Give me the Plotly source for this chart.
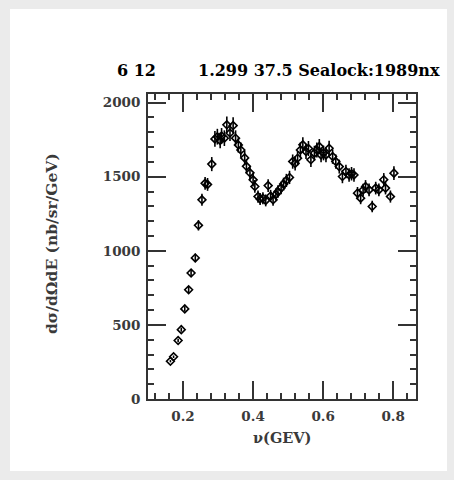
import plotly.graph_objects as go

# Inclusive cross section, Sealock 1989, E = 1.299 GeV, theta = 37.5 deg
nu = [0.164, 0.173, 0.186, 0.195, 0.205, 0.216, 0.223, 0.235, 0.244, 0.254,
      0.263, 0.270, 0.282, 0.291, 0.298, 0.306, 0.310, 0.318, 0.325, 0.334,
      0.343, 0.350, 0.358, 0.365, 0.376, 0.381, 0.391, 0.400, 0.405, 0.414,
      0.420, 0.428, 0.436, 0.443, 0.450, 0.457, 0.465, 0.471, 0.480, 0.487,
      0.495, 0.504, 0.513, 0.520, 0.527, 0.535, 0.542, 0.551, 0.558, 0.565,
      0.575, 0.582, 0.589, 0.594, 0.601, 0.608, 0.617, 0.627, 0.636, 0.646,
      0.655, 0.665, 0.674, 0.681, 0.688, 0.698, 0.707, 0.714, 0.721, 0.731,
      0.740, 0.750, 0.759, 0.773, 0.778, 0.792, 0.802]
xsec = [255, 285, 395, 468, 608, 737, 850, 952, 1172, 1344,
        1455, 1448, 1585, 1755, 1770, 1745, 1775, 1760, 1850, 1795,
        1845, 1760, 1714, 1680, 1627, 1570, 1526, 1479, 1434, 1366,
        1350, 1355, 1340, 1440, 1370, 1344, 1380, 1400, 1425, 1450,
        1475, 1495, 1602, 1590, 1625, 1680, 1715, 1670, 1690, 1614,
        1659, 1680, 1703, 1647, 1660, 1647, 1692, 1636, 1602, 1568,
        1501, 1535, 1512, 1520, 1512, 1389, 1355, 1410, 1434, 1411,
        1299, 1423, 1411, 1480, 1423, 1366, 1524]

header_left = "6 12"
header_right = "1.299 37.5 Sealock:1989nx"
x_title = "\u03bd(GEV)"
y_title = "d\u03c3/d\u03a9dE (nb/sr/GeV)"

W, H = 454, 480
L, R, T, B = 148, 38, 94, 81
PW, PH = W - L - R, H - T - B


def px(xp):
    return (xp - L) / PW


def py(yp):
    return (H - B - yp) / PH


FONT = "DejaVu Serif"
INK = "#3a3a3a"
FRAME = "#333333"

fig = go.Figure()
fig.add_trace(go.Scatter(
    x=nu, y=xsec, mode="markers",
    marker=dict(symbol="diamond-open", size=6, color="black",
                line=dict(width=1.6, color="black")),
    error_y=dict(type="percent", value=3.0, thickness=1.6, width=0, color="black"),
    showlegend=False,
))

axis_common = dict(
    showline=True, linewidth=1.8, linecolor=FRAME, mirror="allticks",
    ticks="inside", ticklen=18, tickwidth=1.6, tickcolor=FRAME,
    showgrid=False, zeroline=False,
    tickfont=dict(family=FONT, size=13.5, color=INK, weight="bold"),
)

fig.update_xaxes(
    range=[0.1, 0.865], tick0=0, dtick=0.2, tickformat=".1f",
    ticklabelstandoff=4,
    minor=dict(ticks="inside", ticklen=6, tickwidth=1.6, tickcolor=FRAME,
               tick0=0, dtick=0.04, showgrid=False),
    **axis_common,
)
fig.update_yaxes(
    range=[0, 2058], tick0=0, dtick=500,
    ticklabelstandoff=3,
    minor=dict(ticks="inside", ticklen=6, tickwidth=1.6, tickcolor=FRAME,
               tick0=0, dtick=100, showgrid=False),
    **axis_common,
)

fig.add_annotation(text=f"<b>{header_left}</b>", x=px(115), y=py(70),
                   xref="paper", yref="paper", xanchor="left", yanchor="middle",
                   showarrow=False, font=dict(family=FONT, size=16, color="black"))
fig.add_annotation(text=f"<b>{header_right}</b>", x=px(196), y=py(70),
                   xref="paper", yref="paper", xanchor="left", yanchor="middle",
                   showarrow=False, font=dict(family=FONT, size=16, color="black"))
fig.add_annotation(text=f"<b>{x_title}</b>", x=px(282), y=py(437),
                   xref="paper", yref="paper", xanchor="center", yanchor="middle",
                   showarrow=False, font=dict(family=FONT, size=14.5, color=INK))
fig.add_annotation(text=f"<b>{y_title}</b>", x=px(51), y=py(244),
                   xref="paper", yref="paper", xanchor="center", yanchor="middle",
                   textangle=-90, showarrow=False,
                   font=dict(family=FONT, size=15.5, color=INK))

# white page on a light grey surround
fig.add_shape(type="rect", xref="paper", yref="paper",
              x0=px(10), x1=px(447), y0=py(471), y1=py(9),
              fillcolor="white", line=dict(width=0), layer="below")

fig.update_layout(
    width=W, height=H,
    margin=dict(l=L, r=R, t=T, b=B),
    paper_bgcolor="#ebebeb", plot_bgcolor="white",
)

fig.write_html("out.html")
